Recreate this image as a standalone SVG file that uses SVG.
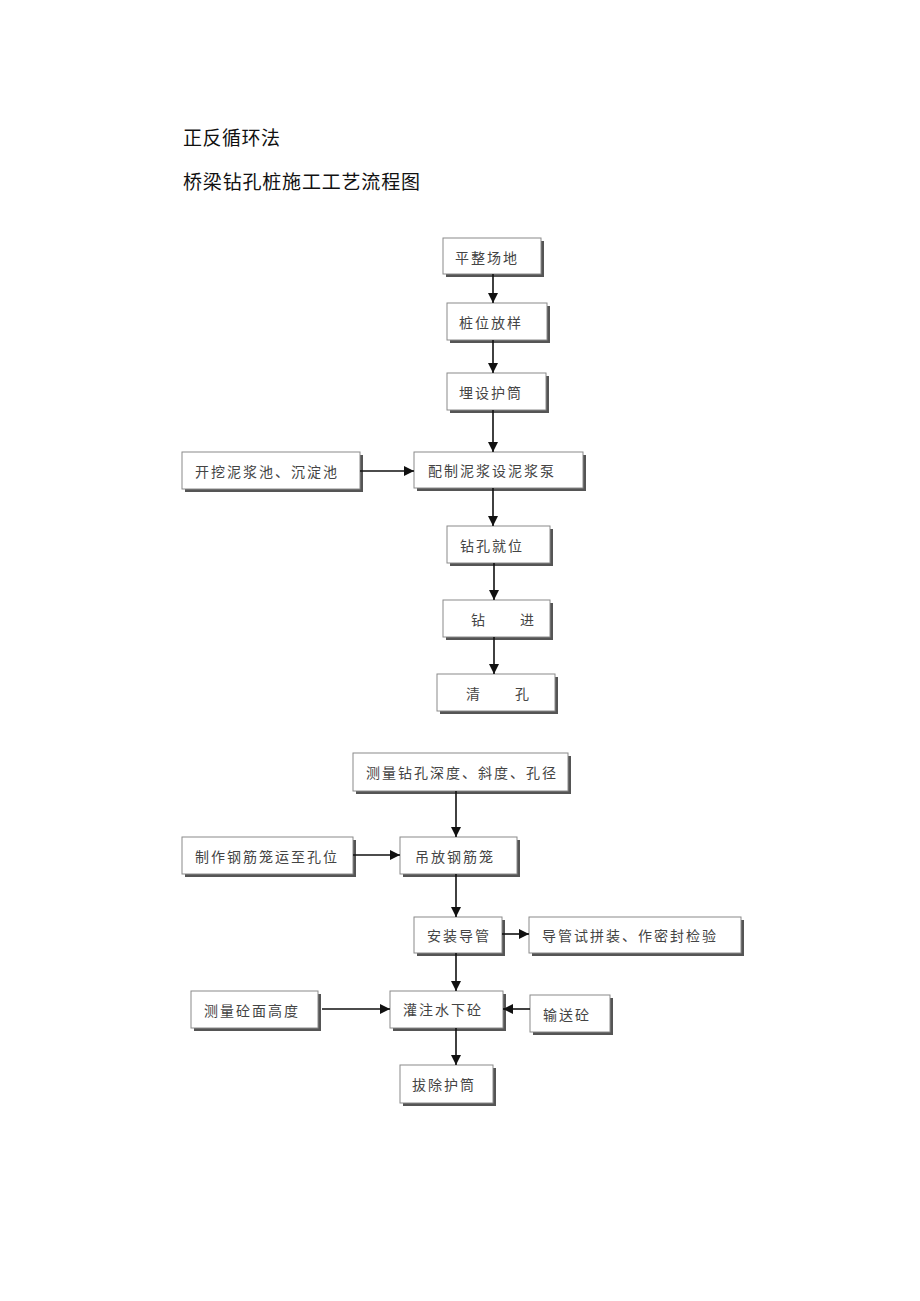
<svg xmlns="http://www.w3.org/2000/svg" width="920" height="1301" viewBox="0 0 920 1301">
<style>
.title{font-family:"Noto Sans CJK SC","Noto Sans CJK JP",sans-serif;font-size:19px;fill:#111}
.sh{fill:#555}
.bx{fill:#fff;stroke:#8a8a8a;stroke-width:1}
.t{font-family:"Noto Sans CJK SC","Noto Sans CJK JP",sans-serif;font-size:14px;fill:#444;letter-spacing:2px;dominant-baseline:central}
.c{stroke:#111;stroke-width:1.6;fill:none;marker-end:url(#ah)}
</style>
<defs>
<marker id="ah" viewBox="0 0 10 10" refX="10" refY="5" markerWidth="10" markerHeight="10" markerUnits="userSpaceOnUse" orient="auto">
<path d="M0,0 L10,5 L0,10 z" fill="#111"/>
</marker>
</defs>
<rect width="920" height="1301" fill="#fff"/>
<text class="title" x="183" y="145" textLength="97">正反循环法</text>
<text class="title" x="183" y="189" textLength="237">桥梁钻孔桩施工工艺流程图</text>

<g id="n1"><rect class="sh" x="446" y="241" width="98" height="36"/><rect class="bx" x="443" y="238" width="98" height="36"/><text class="t" x="455" y="257">平整场地</text></g>
<g id="n2"><rect class="sh" x="450" y="306" width="100" height="37"/><rect class="bx" x="447" y="303" width="100" height="37"/><text class="t" x="459" y="322">桩位放样</text></g>
<g id="n3"><rect class="sh" x="450" y="376" width="99" height="37"/><rect class="bx" x="447" y="373" width="99" height="37"/><text class="t" x="459" y="392">埋设护筒</text></g>
<g id="n4"><rect class="sh" x="185" y="455" width="178" height="37"/><rect class="bx" x="182" y="452" width="178" height="37"/><text class="t" x="195" y="471">开挖泥浆池、沉淀池</text></g>
<g id="n5"><rect class="sh" x="417" y="455" width="169" height="36"/><rect class="bx" x="414" y="452" width="169" height="36"/><text class="t" x="428" y="470">配制泥浆设泥浆泵</text></g>
<g id="n6"><rect class="sh" x="450" y="529" width="103" height="37"/><rect class="bx" x="447" y="526" width="103" height="37"/><text class="t" x="460" y="545">钻孔就位</text></g>
<g id="n7"><rect class="sh" x="446" y="603" width="107" height="37"/><rect class="bx" x="443" y="600" width="107" height="37"/><text class="t" y="619"><tspan x="471">钻</tspan><tspan x="520">进</tspan></text></g>
<g id="n8"><rect class="sh" x="440" y="677" width="118" height="37"/><rect class="bx" x="437" y="674" width="118" height="37"/><text class="t" y="693"><tspan x="466">清</tspan><tspan x="515">孔</tspan></text></g>

<g id="n9"><rect class="sh" x="356" y="756" width="215" height="38"/><rect class="bx" x="353" y="753" width="215" height="38"/><text class="t" x="366" y="772">测量钻孔深度、斜度、孔径</text></g>
<g id="n10"><rect class="sh" x="403" y="840" width="117" height="37"/><rect class="bx" x="400" y="837" width="117" height="37"/><text class="t" x="415" y="856">吊放钢筋笼</text></g>
<g id="n11"><rect class="sh" x="185" y="840" width="171" height="37"/><rect class="bx" x="182" y="837" width="171" height="37"/><text class="t" x="195" y="856">制作钢筋笼运至孔位</text></g>
<g id="n12"><rect class="sh" x="417" y="920" width="88" height="36"/><rect class="bx" x="414" y="917" width="88" height="36"/><text class="t" x="427" y="935">安装导管</text></g>
<g id="n13"><rect class="sh" x="532" y="920" width="212" height="36"/><rect class="bx" x="529" y="917" width="212" height="36"/><text class="t" x="542" y="935">导管试拼装、作密封检验</text></g>
<g id="n14"><rect class="sh" x="194" y="994" width="127" height="37"/><rect class="bx" x="191" y="991" width="127" height="37"/><text class="t" x="204" y="1010">测量砼面高度</text></g>
<g id="n15"><rect class="sh" x="393" y="994" width="113" height="37"/><rect class="bx" x="390" y="991" width="113" height="37"/><text class="t" x="403" y="1009">灌注水下砼</text></g>
<g id="n16"><rect class="sh" x="533" y="998" width="80" height="37"/><rect class="bx" x="530" y="995" width="80" height="37"/><text class="t" x="543" y="1014">输送砼</text></g>
<g id="n17"><rect class="sh" x="403" y="1068" width="93" height="38"/><rect class="bx" x="400" y="1065" width="93" height="38"/><text class="t" x="412" y="1084">拔除护筒</text></g>

<g id="connectors">
<line class="c" x1="493" y1="274" x2="493" y2="303"/>
<line class="c" x1="493" y1="340" x2="493" y2="373"/>
<line class="c" x1="493" y1="410" x2="493" y2="452"/>
<line class="c" x1="360" y1="471" x2="414" y2="471"/>
<line class="c" x1="493" y1="488" x2="493" y2="526"/>
<line class="c" x1="494" y1="563" x2="494" y2="600"/>
<line class="c" x1="494" y1="637" x2="494" y2="674"/>
<line class="c" x1="456" y1="791" x2="456" y2="837"/>
<line class="c" x1="353" y1="855" x2="400" y2="855"/>
<line class="c" x1="456" y1="874" x2="456" y2="917"/>
<line class="c" x1="502" y1="934" x2="529" y2="934"/>
<line class="c" x1="456" y1="953" x2="456" y2="991"/>
<line class="c" x1="322" y1="1009" x2="390" y2="1009"/>
<line class="c" x1="530" y1="1009" x2="503" y2="1009"/>
<line class="c" x1="456" y1="1028" x2="456" y2="1065"/>
</g>
</svg>
